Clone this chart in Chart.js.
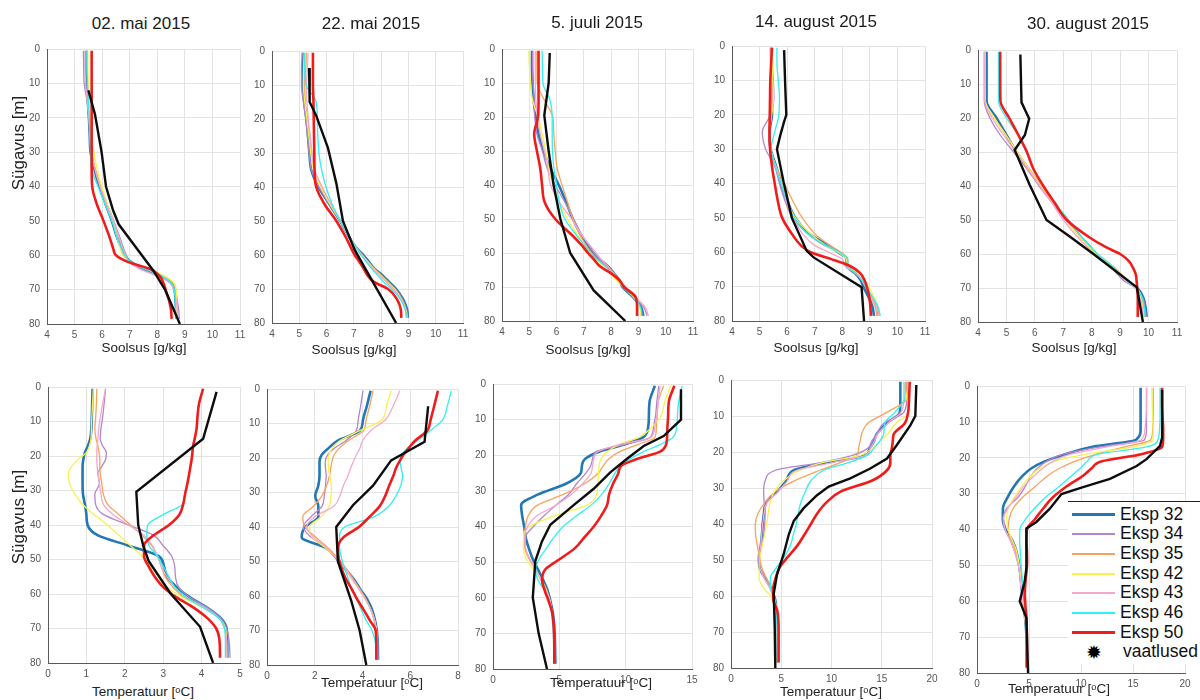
<!DOCTYPE html>
<html lang="et">
<head>
<meta charset="utf-8">
<title>Soolsuse ja temperatuuri profiilid 2015</title>
<script src="https://cdn.jsdelivr.net/npm/chart.js@4.4.1/dist/chart.umd.min.js"></script>
<style>
  html, body { margin: 0; padding: 0; background: #fff; }
  #fig { position: relative; width: 1200px; height: 700px; overflow: hidden; background: #fff;
         font-family: "Liberation Sans", Arial, Helvetica, sans-serif; color: #1a1a1a; }
  #fig canvas { position: absolute; }
  .lbl { position: absolute; white-space: nowrap; line-height: 1; transform: translate(-50%, -50%); }
  .ttl { font-size: 17px; color: #1a1a1a; }
  .xt { font-size: 13.5px; color: #222; }
  .yt { font-size: 17px; color: #222; transform: translate(-50%, -50%) rotate(-90deg); }
  #legend { position: absolute; left: 1068px; top: 501px; width: 140px; height: 162px; background: #fff;
            border-top: 1.3px solid #222; }
  .row { position: absolute; left: 0; width: 140px; height: 0; }
  .swatch { position: absolute; left: 4px; width: 43px; }
  .name { position: absolute; left: 52px; top: 0; font-size: 17.5px; line-height: 1; transform: translateY(-50%); color: #111; }
  .star { position: absolute; left: 26px; top: 0; font-family: "DejaVu Sans", sans-serif; font-size: 19px; line-height: 1; transform: translate(-50%, -50%); color: #000; }
</style>
</head>
<body>
<div id="fig"></div>
<script>
// ---------------- series ----------------
const SERIES = ['Eksp 32', 'Eksp 34', 'Eksp 35', 'Eksp 42', 'Eksp 43', 'Eksp 46', 'Eksp 50'];
const OBS_LABEL = 'vaatlused';
const dates = ['02. mai 2015', '22. mai 2015', '5. juuli 2015', '14. august 2015', '30. august 2015'];

// depth levels (m) of the model profiles
const salDepth  = [0.5, 5, 10, 15, 20, 25, 30, 35, 40, 45, 50, 55, 58, 60, 62, 64, 66, 68, 70, 73, 76, 78.5];
const tempDepth = [0.5, 5, 9, 12, 15, 17, 19, 21, 23, 25, 28, 31, 34, 37, 40, 43, 46, 49, 52, 55, 58, 61, 64, 67, 70, 74, 78.5];

// ---------------- salinity (g/kg) ----------------
// 02. mai
const sal0205_e32 = [5.42, 5.42, 5.44, 5.48, 5.52, 5.55, 5.58, 5.72, 5.9, 6.12, 6.35, 6.55, 6.7, 6.82, 7.05, 7.55, 8.1, 8.5, 8.62, 8.66, 8.68, 8.7];
const sal0205_e34 = [5.32, 5.33, 5.35, 5.45, 5.52, 5.56, 5.6, 5.75, 5.95, 6.18, 6.42, 6.65, 6.78, 6.88, 7.0, 7.4, 8.0, 8.5, 8.65, 8.72, 8.78, 8.8];
const sal0205_e35 = [5.46, 5.46, 5.47, 5.5, 5.54, 5.58, 5.62, 5.75, 5.95, 6.15, 6.38, 6.55, 6.68, 6.78, 7.0, 7.6, 8.2, 8.58, 8.68, 8.7, 8.72, 8.72];
const sal0205_e42 = [5.48, 5.48, 5.5, 5.52, 5.56, 5.62, 5.7, 5.82, 5.98, 6.18, 6.4, 6.55, 6.65, 6.75, 7.0, 7.65, 8.25, 8.6, 8.68, 8.7, 8.7, 8.7];
const sal0205_e43 = [5.38, 5.38, 5.4, 5.46, 5.52, 5.56, 5.6, 5.74, 5.92, 6.15, 6.4, 6.62, 6.75, 6.85, 6.98, 7.35, 8.0, 8.45, 8.6, 8.68, 8.72, 8.75];
const sal0205_e46 = [5.45, 5.45, 5.47, 5.5, 5.53, 5.56, 5.58, 5.62, 5.85, 6.1, 6.35, 6.55, 6.7, 6.82, 7.05, 7.55, 8.15, 8.5, 8.62, 8.65, 8.66, 8.68];
const sal0205_e50 = [5.62, 5.62, 5.62, 5.62, 5.62, 5.62, 5.62, 5.62, 5.64, 5.8, 6.05, 6.28, 6.4, 6.5, 6.95, 7.75, 8.08, 8.22, 8.3, 8.42, 8.5, 8.52];
const sal0205_obsDepth = [12, 19, 30, 40, 47, 51, 64.5, 70, 75, 80];
const sal0205_obs      = [5.5, 5.74, 5.98, 6.14, 6.4, 6.6, 7.86, 8.28, 8.55, 8.82];

// 22. mai
const sal2205_e32 = [5.14, 5.14, 5.14, 5.18, 5.26, 5.32, 5.37, 5.44, 5.7, 6.1, 6.5, 6.85, 7.1, 7.35, 7.55, 7.75, 8.05, 8.3, 8.55, 8.8, 8.95, 8.98];
const sal2205_e34 = [5.11, 5.08, 5.08, 5.15, 5.24, 5.3, 5.36, 5.45, 5.72, 6.1, 6.5, 6.86, 7.12, 7.32, 7.52, 7.75, 8.02, 8.28, 8.52, 8.78, 8.93, 8.98];
const sal2205_e35 = [5.26, 5.24, 5.2, 5.22, 5.3, 5.38, 5.45, 5.55, 5.82, 6.15, 6.52, 6.86, 7.1, 7.3, 7.52, 7.75, 8.0, 8.25, 8.5, 8.75, 8.9, 8.95];
const sal2205_e42 = [5.18, 5.16, 5.15, 5.2, 5.28, 5.35, 5.42, 5.52, 5.78, 6.12, 6.5, 6.85, 7.1, 7.28, 7.5, 7.72, 7.98, 8.22, 8.48, 8.74, 8.9, 8.95];
const sal2205_e43 = [5.32, 5.3, 5.26, 5.28, 5.33, 5.4, 5.47, 5.56, 5.84, 6.16, 6.52, 6.86, 7.08, 7.26, 7.48, 7.7, 7.95, 8.2, 8.45, 8.72, 8.88, 8.95];
const sal2205_e46 = [5.2, 5.2, 5.25, 5.62, 5.66, 5.68, 5.72, 5.82, 5.98, 6.2, 6.5, 6.85, 7.1, 7.28, 7.45, 7.65, 7.88, 8.1, 8.38, 8.7, 8.88, 8.92];
const sal2205_e50 = [5.5, 5.5, 5.5, 5.52, 5.53, 5.54, 5.55, 5.56, 5.62, 5.92, 6.36, 6.72, 6.9, 7.03, 7.2, 7.36, 7.5, 7.75, 8.25, 8.58, 8.72, 8.74];
const sal2205_obsDepth = [5, 15, 19, 28.5, 39, 50, 58.5, 68, 80];
const sal2205_obs      = [5.36, 5.38, 5.62, 6.05, 6.36, 6.6, 7.03, 7.7, 8.55];

// 5. juuli
const sal0507_e32 = [5.1, 5.1, 5.12, 5.16, 5.24, 5.34, 5.52, 5.77, 6.08, 6.35, 6.6, 6.92, 7.18, 7.35, 7.6, 7.9, 8.1, 8.3, 8.42, 8.8, 9.1, 9.18];
const sal0507_e34 = [5.12, 5.12, 5.14, 5.18, 5.2, 5.28, 5.48, 5.65, 5.95, 6.3, 6.62, 6.95, 7.2, 7.38, 7.6, 7.85, 8.1, 8.3, 8.5, 8.85, 9.2, 9.32];
const sal0507_e35 = [5.28, 5.28, 5.29, 5.55, 5.86, 5.9, 5.95, 6.02, 6.2, 6.4, 6.6, 6.88, 7.1, 7.28, 7.5, 7.8, 8.05, 8.25, 8.45, 8.8, 9.05, 9.12];
const sal0507_e42 = [4.98, 5.0, 5.04, 5.12, 5.32, 5.47, 5.6, 5.71, 5.88, 6.1, 6.4, 6.8, 7.05, 7.22, 7.45, 7.7, 7.95, 8.2, 8.45, 8.85, 9.05, 9.1];
const sal0507_e43 = [5.22, 5.22, 5.22, 5.24, 5.3, 5.4, 5.55, 5.68, 5.78, 6.1, 6.55, 6.95, 7.25, 7.45, 7.65, 7.9, 8.1, 8.3, 8.5, 8.9, 9.25, 9.37];
const sal0507_e46 = [5.47, 5.48, 5.5, 5.76, 5.84, 5.84, 5.85, 5.9, 6.0, 6.1, 6.3, 6.75, 7.05, 7.22, 7.5, 7.8, 8.0, 8.25, 8.45, 8.85, 9.08, 9.13];
const sal0507_e50 = [5.34, 5.34, 5.34, 5.34, 5.32, 5.18, 5.28, 5.4, 5.47, 5.56, 5.95, 6.6, 6.95, 7.15, 7.38, 7.6, 8.0, 8.3, 8.48, 8.9, 8.95, 8.95];
const sal0507_obsDepth = [1.2, 10, 19.5, 30, 40, 50, 60, 71, 80];
const sal0507_obs      = [5.75, 5.71, 5.55, 5.71, 5.89, 6.14, 6.5, 7.36, 8.52];

// 14. august
const sal1408_e32 = [5.42, 5.43, 5.44, 5.45, 5.45, 5.36, 5.4, 5.6, 5.78, 6.0, 6.3, 6.87, 7.5, 7.85, 8.16, 8.16, 8.45, 8.66, 8.76, 8.95, 9.1, 9.15];
const sal1408_e34 = [5.44, 5.46, 5.5, 5.52, 5.4, 5.1, 5.22, 5.55, 5.72, 5.92, 6.2, 6.8, 7.35, 7.85, 8.15, 8.2, 8.5, 8.7, 8.85, 9.05, 9.25, 9.3];
const sal1408_e35 = [5.4, 5.42, 5.44, 5.46, 5.42, 5.35, 5.4, 5.6, 5.9, 6.2, 6.55, 7.05, 7.55, 7.95, 8.2, 8.2, 8.5, 8.7, 8.85, 9.05, 9.2, 9.25];
const sal1408_e42 = [5.46, 5.47, 5.48, 5.5, 5.44, 5.36, 5.4, 5.58, 5.8, 6.0, 6.3, 6.9, 7.4, 7.85, 8.15, 8.2, 8.55, 8.8, 8.95, 9.15, 9.3, 9.35];
const sal1408_e43 = [5.38, 5.4, 5.42, 5.45, 5.42, 5.35, 5.4, 5.58, 5.78, 5.98, 6.2, 6.6, 7.0, 7.5, 8.0, 8.1, 8.45, 8.7, 8.85, 9.05, 9.25, 9.35];
const sal1408_e46 = [5.63, 5.63, 5.68, 5.72, 5.7, 5.55, 5.42, 5.58, 5.78, 6.0, 6.25, 6.8, 7.4, 7.9, 8.2, 8.2, 8.5, 8.72, 8.85, 9.1, 9.3, 9.38];
const sal1408_e50 = [5.45, 5.42, 5.39, 5.38, 5.37, 5.36, 5.38, 5.45, 5.55, 5.66, 5.82, 6.2, 6.5, 6.85, 7.6, 8.28, 8.64, 8.8, 8.89, 8.98, 9.02, 9.04];
const sal1408_obsDepth = [1.2, 11.5, 20, 22, 26, 30, 39.5, 50, 59.6, 61.5, 70.2, 80];
const sal1408_obs      = [5.89, 5.93, 5.97, 5.89, 5.75, 5.63, 5.87, 6.17, 6.71, 6.96, 8.7, 8.79];

// 30. august
const sal3008_e32 = [4.3, 4.3, 4.3, 4.3, 4.65, 5.0, 5.35, 5.78, 6.2, 6.65, 7.15, 7.62, 7.95, 8.15, 8.45, 8.72, 8.95, 9.2, 9.6, 9.82, 9.9, 9.93];
const sal3008_e34 = [4.22, 4.22, 4.22, 4.22, 4.42, 4.78, 5.25, 5.72, 6.15, 6.62, 7.12, 7.6, 7.92, 8.12, 8.4, 8.7, 8.95, 9.2, 9.55, 9.8, 9.88, 9.92];
const sal3008_e35 = [4.24, 4.24, 4.24, 4.25, 4.58, 4.98, 5.38, 5.8, 6.22, 6.68, 7.12, 7.6, 7.95, 8.2, 8.5, 8.8, 9.05, 9.3, 9.6, 9.75, 9.82, 9.85];
const sal3008_e42 = [4.25, 4.25, 4.25, 4.26, 4.58, 4.98, 5.38, 5.8, 6.22, 6.66, 7.1, 7.58, 7.92, 8.15, 8.45, 8.75, 9.0, 9.25, 9.55, 9.72, 9.8, 9.82];
const sal3008_e43 = [4.23, 4.23, 4.23, 4.24, 4.5, 4.9, 5.32, 5.75, 6.18, 6.6, 7.0, 7.5, 7.85, 8.1, 8.4, 8.7, 8.95, 9.2, 9.52, 9.7, 9.78, 9.8];
const sal3008_e46 = [4.72, 4.72, 4.72, 4.72, 5.0, 5.42, 5.7, 5.95, 6.3, 6.72, 7.18, 7.65, 7.98, 8.2, 8.5, 8.75, 9.0, 9.25, 9.58, 9.78, 9.85, 9.88];
const sal3008_e50 = [4.78, 4.78, 4.78, 4.79, 5.1, 5.42, 5.72, 5.95, 6.3, 6.7, 7.12, 7.9, 8.5, 9.0, 9.3, 9.45, 9.55, 9.58, 9.6, 9.62, 9.62, 9.62];
const sal3008_obsDepth = [1.3, 15.4, 20.2, 25, 29.4, 39.7, 50, 55, 60, 69.8, 80];
const sal3008_obs      = [5.49, 5.53, 5.8, 5.65, 5.29, 5.82, 6.41, 7.25, 8.06, 9.59, 9.8];

// ---------------- temperature (°C) ----------------
// 02. mai
const tem0205_e32 = [1.16, 1.15, 1.14, 1.13, 1.1, 1.04, 0.96, 0.92, 0.9, 0.9, 0.9, 0.91, 0.96, 1.0, 1.03, 1.3, 2.1, 2.88, 3.02, 3.1, 3.35, 3.7, 4.15, 4.5, 4.65, 4.67, 4.67];
const tem0205_e34 = [1.5, 1.46, 1.42, 1.38, 1.36, 1.42, 1.52, 1.5, 1.4, 1.3, 1.34, 1.22, 1.24, 1.45, 2.1, 2.75, 3.0, 3.22, 3.3, 3.32, 3.4, 3.7, 4.15, 4.5, 4.65, 4.72, 4.74];
const tem0205_e35 = [1.27, 1.26, 1.24, 1.22, 1.25, 1.3, 1.33, 1.35, 1.35, 1.36, 1.4, 1.44, 1.55, 1.85, 2.15, 2.45, 2.7, 2.85, 2.95, 3.05, 3.25, 3.55, 4.05, 4.45, 4.6, 4.65, 4.65];
const tem0205_e42 = [1.18, 1.16, 1.14, 1.13, 1.12, 1.08, 1.0, 0.78, 0.62, 0.53, 0.56, 0.7, 0.9, 1.2, 1.55, 1.85, 2.15, 2.45, 2.65, 2.8, 3.1, 3.5, 4.05, 4.45, 4.62, 4.65, 4.65];
const tem0205_e43 = [1.5, 1.42, 1.36, 1.32, 1.3, 1.28, 1.27, 1.27, 1.28, 1.3, 1.34, 1.38, 1.44, 1.7, 2.1, 2.5, 2.72, 2.85, 2.95, 3.1, 3.3, 3.6, 4.1, 4.45, 4.6, 4.65, 4.66];
const tem0205_e46 = [4.04, 3.93, 3.89, 3.87, 3.82, 3.78, 3.76, 3.74, 3.71, 3.68, 3.63, 3.57, 3.5, 3.0, 2.6, 2.57, 2.63, 2.85, 3.0, 3.15, 3.3, 3.6, 4.05, 4.45, 4.6, 4.62, 4.62];
const tem0205_e50 = [4.04, 3.93, 3.89, 3.87, 3.82, 3.78, 3.76, 3.74, 3.71, 3.68, 3.63, 3.57, 3.52, 3.42, 3.15, 2.75, 2.5, 2.5, 2.62, 2.78, 3.0, 3.35, 3.8, 4.15, 4.38, 4.47, 4.48];
const tem0205_obsDepth = [1.4, 15, 30.4, 40, 46, 50.4, 60, 69.5, 80];
const tem0205_obs      = [4.39, 4.04, 2.3, 2.35, 2.48, 2.62, 3.2, 3.96, 4.3];

// 22. mai
const tem2205_e32 = [4.34, 4.18, 4.02, 3.9, 2.95, 2.6, 2.3, 2.2, 2.2, 2.2, 2.15, 2.02, 2.15, 2.15, 1.6, 1.45, 2.45, 2.9, 3.25, 3.62, 3.9, 4.2, 4.4, 4.52, 4.6, 4.64, 4.65];
const tem2205_e34 = [4.02, 3.92, 3.82, 3.74, 3.3, 2.85, 2.55, 2.44, 2.45, 2.48, 2.45, 2.4, 2.3, 1.85, 1.52, 1.85, 2.5, 2.95, 3.3, 3.6, 3.88, 4.15, 4.35, 4.5, 4.6, 4.64, 4.65];
const tem2205_e35 = [4.44, 4.3, 4.15, 4.05, 3.4, 3.05, 2.82, 2.72, 2.67, 2.62, 2.5, 2.3, 1.95, 1.5, 1.6, 2.05, 2.55, 2.95, 3.3, 3.6, 3.88, 4.15, 4.35, 4.5, 4.58, 4.6, 4.6];
const tem2205_e42 = [5.2, 5.0, 4.8, 3.9, 3.05, 2.75, 2.6, 2.56, 2.58, 2.62, 2.7, 2.68, 2.6, 2.28, 1.78, 1.9, 2.45, 2.9, 3.25, 3.55, 3.85, 4.12, 4.35, 4.5, 4.58, 4.6, 4.6];
const tem2205_e43 = [5.56, 5.28, 4.95, 4.35, 4.0, 3.9, 3.75, 3.62, 3.5, 3.4, 3.2, 3.05, 2.8, 2.0, 1.66, 1.95, 2.5, 2.9, 3.25, 3.55, 3.85, 4.12, 4.35, 4.5, 4.58, 4.6, 4.6];
const tem2205_e46 = [7.72, 7.55, 7.35, 6.85, 6.3, 5.9, 5.65, 5.58, 5.62, 5.68, 5.6, 5.4, 5.1, 4.5, 3.25, 3.04, 3.04, 3.12, 3.25, 3.4, 3.55, 3.75, 3.95, 4.15, 4.4, 4.55, 4.58];
const tem2205_e50 = [7.16, 7.0, 6.85, 6.72, 6.2, 5.95, 5.72, 5.55, 5.4, 5.3, 5.12, 4.95, 4.72, 4.3, 3.85, 3.2, 2.97, 3.0, 3.12, 3.3, 3.55, 3.78, 4.05, 4.3, 4.55, 4.58, 4.58];
const tem2205_obsDepth = [5, 15.3, 20.7, 28, 33.7, 40, 50, 61.4, 70, 80];
const tem2205_obs      = [6.75, 6.6, 5.2, 4.44, 3.6, 2.9, 2.97, 3.53, 3.88, 4.16];

// 5. juuli
const tem0507_e32 = [12.2, 11.8, 11.75, 11.7, 11.3, 9.9, 8.0, 6.95, 6.7, 6.62, 5.5, 3.4, 2.12, 2.2, 2.35, 2.46, 2.69, 2.98, 3.38, 3.78, 4.12, 4.33, 4.5, 4.6, 4.65, 4.68, 4.7];
const tem0507_e34 = [12.5, 12.35, 12.25, 12.1, 11.85, 9.9, 7.75, 7.5, 7.36, 7.0, 6.3, 5.7, 4.75, 3.85, 3.05, 2.45, 2.44, 2.75, 3.2, 3.6, 4.0, 4.3, 4.45, 4.55, 4.62, 4.65, 4.65];
const tem0507_e35 = [12.86, 12.45, 12.38, 12.32, 12.2, 10.9, 9.55, 8.75, 8.3, 7.95, 6.9, 5.3, 3.35, 2.65, 2.45, 2.35, 2.4, 2.7, 3.2, 3.65, 4.05, 4.3, 4.45, 4.55, 4.6, 4.62, 4.62];
const tem0507_e42 = [13.37, 12.95, 12.65, 12.0, 11.0, 9.5, 8.6, 8.15, 8.0, 7.96, 7.9, 7.82, 7.1, 4.6, 2.75, 2.3, 2.3, 2.5, 3.05, 3.65, 4.05, 4.3, 4.45, 4.55, 4.6, 4.62, 4.62];
const tem0507_e43 = [12.6, 12.45, 12.35, 12.2, 11.9, 9.5, 7.9, 7.6, 7.5, 7.4, 6.75, 5.9, 4.75, 3.3, 2.6, 2.4, 2.45, 2.75, 3.2, 3.65, 4.0, 4.3, 4.45, 4.55, 4.6, 4.62, 4.62];
const tem0507_e46 = [14.25, 14.0, 13.9, 13.85, 13.55, 12.6, 11.35, 10.35, 9.6, 9.2, 8.75, 8.2, 7.4, 6.3, 5.3, 4.6, 4.05, 3.5, 3.2, 3.38, 3.9, 4.2, 4.4, 4.5, 4.55, 4.57, 4.57];
const tem0507_e50 = [13.67, 13.25, 13.2, 13.15, 13.12, 13.05, 12.6, 10.9, 9.65, 9.45, 9.05, 8.75, 8.6, 8.15, 7.6, 6.9, 6.2, 5.1, 3.95, 3.7, 3.9, 4.2, 4.45, 4.55, 4.6, 4.62, 4.62];
const tem0507_obsDepth = [1.5, 10, 14.6, 17.4, 21, 24.8, 29.4, 34, 39.5, 44.2, 49.7, 60, 70, 80];
const tem0507_obs      = [14.17, 14.17, 12.86, 11.36, 10.1, 8.84, 7.59, 6.08, 4.32, 3.69, 3.19, 3.0, 3.44, 4.07];

// 14. august
const tem1408_e32 = [16.85, 16.85, 16.8, 15.5, 14.5, 14.22, 13.8, 13.2, 9.4, 6.3, 5.5, 4.6, 3.5, 3.28, 3.15, 3.08, 2.97, 2.78, 2.82, 3.4, 4.0, 4.4, 4.5, 4.55, 4.58, 4.58, 4.58];
const tem1408_e34 = [17.5, 17.5, 17.2, 15.2, 14.5, 14.0, 13.6, 12.0, 8.8, 4.5, 3.4, 3.25, 3.3, 3.4, 3.35, 3.25, 3.0, 2.78, 2.85, 3.5, 4.05, 4.4, 4.5, 4.55, 4.58, 4.58, 4.58];
const tem1408_e35 = [17.5, 17.5, 15.5, 13.6, 13.0, 12.85, 12.7, 12.55, 10.8, 8.9, 6.3, 4.4, 3.4, 2.7, 2.42, 2.45, 2.62, 2.82, 3.05, 3.5, 4.0, 4.35, 4.5, 4.55, 4.58, 4.58, 4.58];
const tem1408_e42 = [17.2, 17.5, 17.7, 16.4, 15.6, 14.8, 14.0, 12.8, 9.0, 6.9, 5.2, 4.3, 3.9, 3.7, 3.55, 3.35, 3.1, 2.9, 2.8, 2.8, 3.3, 4.3, 4.5, 4.55, 4.58, 4.58, 4.58];
const tem1408_e43 = [17.2, 17.2, 16.9, 15.6, 14.6, 14.25, 13.85, 13.3, 10.0, 6.6, 5.6, 4.7, 3.6, 3.3, 3.15, 3.05, 2.95, 2.8, 2.85, 3.3, 3.9, 4.3, 4.45, 4.55, 4.58, 4.58, 4.58];
const tem1408_e46 = [17.35, 17.3, 16.3, 15.3, 15.2, 14.8, 14.2, 13.5, 11.6, 9.3, 7.95, 7.4, 6.95, 6.7, 6.5, 6.2, 5.9, 5.35, 4.55, 3.92, 3.95, 4.35, 4.5, 4.55, 4.6, 4.6, 4.6];
const tem1408_e50 = [17.78, 17.72, 17.62, 17.3, 16.2, 16.1, 16.0, 15.85, 15.85, 15.55, 14.0, 10.9, 9.5, 8.6, 7.95, 7.3, 6.6, 5.7, 4.85, 4.45, 4.2, 4.2, 4.6, 4.72, 4.74, 4.74, 4.74];
const tem1408_obsDepth = [1.4, 10, 12.6, 18, 21.8, 24.6, 27.3, 29.6, 32, 35.6, 39.2, 43, 48.4, 54, 59.4, 68.6, 80];
const tem1408_obs      = [18.44, 18.34, 17.84, 16.52, 15.52, 13.86, 11.87, 9.72, 8.56, 7.23, 6.24, 5.74, 5.24, 4.58, 4.25, 4.35, 4.41];

// 30. august
const tem3008_e32 = [15.73, 15.73, 15.73, 15.73, 15.3, 11.0, 8.5, 6.5, 5.2, 4.4, 3.55, 2.95, 2.5, 2.48, 2.75, 3.4, 3.78, 4.0, 4.15, 4.25, 4.35, 4.45, 4.6, 4.7, 4.75, 4.75, 4.75];
const tem3008_e34 = [16.3, 16.3, 16.3, 16.3, 16.1, 11.8, 8.3, 6.7, 5.8, 5.2, 4.65, 3.95, 2.9, 2.5, 2.7, 3.2, 3.6, 3.9, 4.1, 4.2, 4.35, 4.45, 4.6, 4.7, 4.75, 4.75, 4.75];
const tem3008_e35 = [16.95, 16.95, 16.95, 16.9, 16.7, 14.2, 11.5, 9.4, 7.9, 6.8, 5.6, 4.4, 3.5, 3.1, 3.0, 3.3, 3.7, 4.0, 4.15, 4.25, 4.35, 4.45, 4.6, 4.7, 4.75, 4.75, 4.75];
const tem3008_e42 = [16.8, 16.85, 16.9, 16.95, 16.9, 15.0, 10.5, 7.4, 6.0, 5.2, 4.3, 3.6, 3.0, 2.85, 3.0, 3.4, 3.8, 4.0, 4.15, 4.25, 4.35, 4.45, 4.6, 4.7, 4.75, 4.75, 4.75];
const tem3008_e43 = [16.3, 16.3, 16.25, 16.15, 15.8, 12.5, 9.0, 7.3, 6.3, 5.5, 4.5, 3.75, 3.0, 2.55, 2.7, 3.2, 3.6, 3.9, 4.1, 4.2, 4.35, 4.45, 4.6, 4.7, 4.75, 4.75, 4.75];
const tem3008_e46 = [17.6, 17.6, 17.6, 17.55, 17.4, 16.3, 11.6, 10.6, 9.9, 9.1, 7.9, 6.6, 5.55, 4.7, 4.12, 4.1, 4.15, 4.22, 4.3, 4.4, 4.5, 4.6, 4.7, 4.75, 4.75, 4.75, 4.75];
const tem3008_e50 = [17.8, 17.8, 17.85, 17.9, 17.9, 17.8, 15.8, 12.0, 11.0, 10.2, 8.6, 7.3, 6.4, 5.6, 4.8, 4.75, 4.8, 4.82, 4.75, 4.65, 4.6, 4.65, 4.75, 4.78, 4.8, 4.8, 4.8];
const tem3008_obsDepth = [1.1, 14.4, 16.7, 20.4, 22.3, 25.9, 28.2, 30.1, 34.2, 37.9, 39.7, 50.8, 54.4, 60, 64.6, 80];
const tem3008_obs      = [17.8, 17.8, 17.6, 16.3, 15.35, 12.78, 10.2, 8.12, 7.0, 5.71, 4.75, 4.75, 4.59, 4.11, 4.75, 4.91];

// x-axis ranges: [min, max, step]
const salRange  = [4, 11, 1];
const tempRanges = [[0, 5, 1], [0, 8, 2], [0, 15, 5], [0, 20, 5], [0, 20, 5]];
const depthRange = [0, 80, 10];

// ---------------- styles ----------------
const seriesColors = ['#2277b5', '#b386cc', '#f9a25c', '#f7f34c', '#f5a8cf', '#30f0f0', '#f01c1c'];
const seriesWidths = [2.6, 1.3, 1.3, 1.3, 1.3, 1.3, 2.6];
const legendWidths = [3.5, 2, 2, 2, 2, 2, 3.5];
const obsColor = '#0d0d0d';

// plot-area rectangles (left, top, right, bottom) for the ten panels
const frames = [
  { L: 47,  T: 46,  R: 240,  B: 324 },
  { L: 272, T: 48,  R: 463,  B: 323 },
  { L: 502, T: 46,  R: 693,  B: 321 },
  { L: 732, T: 43,  R: 925,  B: 321 },
  { L: 978, T: 47,  R: 1177, B: 322 },
  { L: 48,  T: 384, R: 240,  B: 663 },
  { L: 267, T: 386, R: 458,  B: 665 },
  { L: 493, T: 381, R: 692,  B: 669 },
  { L: 731, T: 377, R: 932,  B: 668 },
  { L: 977, T: 383, R: 1185, B: 673 }
];
const titlePos  = [[141, 23], [371, 23], [597, 22], [816, 21], [1088, 23]];
const salTitlePos  = [[144, 348], [354, 350], [588, 350], [816, 348], [1074, 348]];
const tempTitlePos = [[143, 692], [372, 683], [601, 683], [831, 692], [1059, 689]];
const depthTitlePos = [[18, 143], [18, 517]];

// ---------------- panels ----------------
const salPanels = [
  { models: [sal0205_e32, sal0205_e34, sal0205_e35, sal0205_e42, sal0205_e43, sal0205_e46, sal0205_e50], obsDepth: sal0205_obsDepth, obs: sal0205_obs },
  { models: [sal2205_e32, sal2205_e34, sal2205_e35, sal2205_e42, sal2205_e43, sal2205_e46, sal2205_e50], obsDepth: sal2205_obsDepth, obs: sal2205_obs },
  { models: [sal0507_e32, sal0507_e34, sal0507_e35, sal0507_e42, sal0507_e43, sal0507_e46, sal0507_e50], obsDepth: sal0507_obsDepth, obs: sal0507_obs },
  { models: [sal1408_e32, sal1408_e34, sal1408_e35, sal1408_e42, sal1408_e43, sal1408_e46, sal1408_e50], obsDepth: sal1408_obsDepth, obs: sal1408_obs },
  { models: [sal3008_e32, sal3008_e34, sal3008_e35, sal3008_e42, sal3008_e43, sal3008_e46, sal3008_e50], obsDepth: sal3008_obsDepth, obs: sal3008_obs }
];
const tempPanels = [
  { models: [tem0205_e32, tem0205_e34, tem0205_e35, tem0205_e42, tem0205_e43, tem0205_e46, tem0205_e50], obsDepth: tem0205_obsDepth, obs: tem0205_obs },
  { models: [tem2205_e32, tem2205_e34, tem2205_e35, tem2205_e42, tem2205_e43, tem2205_e46, tem2205_e50], obsDepth: tem2205_obsDepth, obs: tem2205_obs },
  { models: [tem0507_e32, tem0507_e34, tem0507_e35, tem0507_e42, tem0507_e43, tem0507_e46, tem0507_e50], obsDepth: tem0507_obsDepth, obs: tem0507_obs },
  { models: [tem1408_e32, tem1408_e34, tem1408_e35, tem1408_e42, tem1408_e43, tem1408_e46, tem1408_e50], obsDepth: tem1408_obsDepth, obs: tem1408_obs },
  { models: [tem3008_e32, tem3008_e34, tem3008_e35, tem3008_e42, tem3008_e43, tem3008_e46, tem3008_e50], obsDepth: tem3008_obsDepth, obs: tem3008_obs }
];

// ---------------- drawing ----------------
Chart.defaults.font.family = '"Liberation Sans", Arial, Helvetica, sans-serif';
const fig = document.getElementById('fig');

function addText(text, pos, cls) {
  const d = document.createElement('div');
  d.className = 'lbl ' + cls;
  d.textContent = text;
  d.style.left = pos[0] + 'px';
  d.style.top = pos[1] + 'px';
  fig.appendChild(d);
}

const Y_AXIS_W = 34, PAD_TOP = 10, PAD_RIGHT = 14, X_AXIS_H = 18;

function buildPanel(frame, depth, panel, xr) {
  const canvas = document.createElement('canvas');
  const w = Y_AXIS_W + (frame.R - frame.L) + PAD_RIGHT;
  const h = PAD_TOP + (frame.B - frame.T) + X_AXIS_H;
  canvas.width = w; canvas.height = h;
  canvas.style.width = w + 'px'; canvas.style.height = h + 'px';
  canvas.style.left = (frame.L - Y_AXIS_W) + 'px';
  canvas.style.top = (frame.T - PAD_TOP) + 'px';
  fig.appendChild(canvas);

  const datasets = panel.models.map((vals, k) => ({
    label: SERIES[k],
    data: depth.map((d, i) => ({ x: vals[i], y: d })),
    borderColor: seriesColors[k],
    borderWidth: seriesWidths[k],
    pointRadius: 0,
    cubicInterpolationMode: 'monotone',
    fill: false,
    order: panel.models.length - k
  }));
  datasets.push({
    label: OBS_LABEL,
    data: panel.obsDepth.map((d, i) => ({ x: panel.obs[i], y: d })),
    borderColor: obsColor,
    borderWidth: 2.4,
    pointRadius: 0,
    tension: 0,
    fill: false,
    order: 0
  });

  const tickFont = { size: 10 };
  new Chart(canvas, {
    type: 'line',
    data: { datasets },
    options: {
      responsive: false,
      animation: false,
      devicePixelRatio: 1,
      indexAxis: 'y',
      events: [],
      layout: { padding: { top: PAD_TOP, right: PAD_RIGHT, bottom: 0, left: 0 } },
      plugins: { legend: { display: false }, tooltip: { enabled: false }, title: { display: false } },
      scales: {
        x: {
          type: 'linear', position: 'bottom', min: xr[0], max: xr[1],
          ticks: { stepSize: xr[2], color: '#555', font: tickFont, padding: 5, maxRotation: 0, autoSkip: false },
          grid: { color: '#e3e3e3', drawTicks: false, lineWidth: 1 },
          border: { color: '#595959', width: 1 },
          afterFit: s => { s.height = X_AXIS_H; }
        },
        y: {
          type: 'linear', position: 'left', reverse: true, min: depthRange[0], max: depthRange[1],
          ticks: { stepSize: depthRange[2], color: '#555', font: tickFont, padding: 7, autoSkip: false },
          grid: { color: '#e3e3e3', drawTicks: false, lineWidth: 1 },
          border: { color: '#595959', width: 1 },
          afterFit: s => { s.width = Y_AXIS_W; }
        }
      }
    }
  });
}

salPanels.forEach((p, i) => buildPanel(frames[i], salDepth, p, salRange));
tempPanels.forEach((p, i) => buildPanel(frames[5 + i], tempDepth, p, tempRanges[i]));

dates.forEach((t, i) => addText(t, titlePos[i], 'ttl'));
salTitlePos.forEach(pos => addText('Soolsus [g/kg]', pos, 'xt'));
tempTitlePos.forEach(pos => addText('Temperatuur [ᵒC]', pos, 'xt'));
depthTitlePos.forEach(pos => addText('Sügavus [m]', pos, 'yt'));

// legend
const legend = document.createElement('div');
legend.id = 'legend';
const ROW0 = 12.5, ROW_STEP = 19.7;
SERIES.forEach((name, k) => {
  const row = document.createElement('div');
  row.className = 'row';
  row.style.top = (ROW0 + k * ROW_STEP) + 'px';
  const sw = document.createElement('div');
  sw.className = 'swatch';
  sw.style.height = legendWidths[k] + 'px';
  sw.style.top = (-legendWidths[k] / 2) + 'px';
  sw.style.background = seriesColors[k];
  const tx = document.createElement('div');
  tx.className = 'name';
  tx.textContent = name;
  row.appendChild(sw); row.appendChild(tx);
  legend.appendChild(row);
});
const obsRow = document.createElement('div');
obsRow.className = 'row';
obsRow.style.top = (ROW0 + SERIES.length * ROW_STEP) + 'px';
const star = document.createElement('div');
star.className = 'star';
star.textContent = '✹';
const obsTx = document.createElement('div');
obsTx.className = 'name';
obsTx.style.left = '55px';
obsTx.textContent = OBS_LABEL;
obsRow.appendChild(star); obsRow.appendChild(obsTx);
legend.appendChild(obsRow);
fig.appendChild(legend);
</script>
</body>
</html>
